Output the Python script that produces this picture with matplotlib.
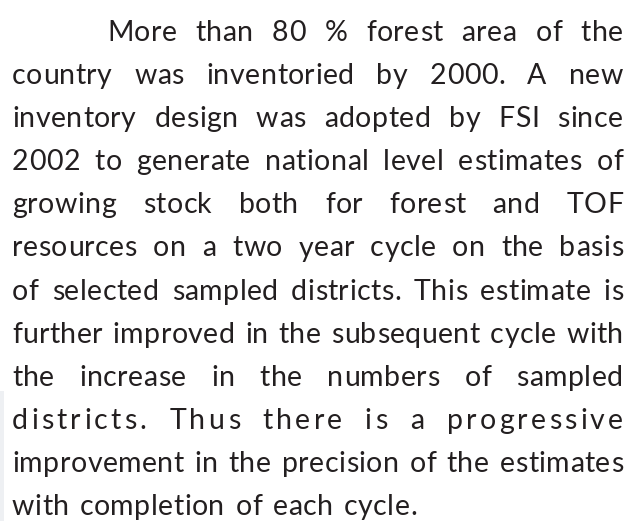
#!/usr/bin/env python3
# Justified paragraph of text, rendered word by word with matplotlib.
import matplotlib; matplotlib.use("Agg")
import matplotlib.pyplot as plt
from matplotlib.patches import Rectangle

lines = [
    "More than 80 % forest area of the",
    "country was inventoried by 2000. A new",
    "inventory design was adopted by FSI since",
    "2002 to generate national level estimates of",
    "growing stock both for forest and TOF",
    "resources on a two year cycle on the basis",
    "of selected sampled districts. This estimate is",
    "further improved in the subsequent cycle with",
    "the increase in the numbers of sampled",
    "districts. Thus there is a progressive",
    "improvement in the precision of the estimates",
    "with completion of each cycle.",
]

W, H = 630, 521
left, right, indent = 12, 623, 107
base0, pitch = 41, 43.1
base_track = 0.45
tracking = {9: 3.2}          # extra letter spacing (px) on the loose line
color = "#231f20"
font = dict(family="Lato", size=20.5, color=color)

fig = plt.figure(figsize=(W/100, H/100), dpi=100)
fig.patch.set_facecolor("white")
fig.patches.append(Rectangle((0, 0), 4/W, 130/H, transform=fig.transFigure,
                             color="#eef0f3", lw=0))
r = fig.canvas.get_renderer()
_cache = {}

def width(s):
    if s not in _cache:
        t = fig.text(0, 0, s, **font)
        _cache[s] = t.get_window_extent(r).width
        t.remove()
    return _cache[s]

def draw_word(word, x, y, tr):
    for ch in word:
        fig.text(x/W, y, ch, va="baseline", **font)
        x += width(ch) + tr

def word_w(word, tr):
    return sum(width(ch) for ch in word) + tr*(len(word)-1)

for i, ln in enumerate(lines):
    words = ln.split()
    tr = tracking.get(i, base_track)
    x0 = indent if i == 0 else left
    y = 1 - (base0 + i*pitch)/H
    ws = [word_w(w, tr) for w in words]
    if i == len(lines)-1:
        gap = width(" ") * 1.5
    else:
        gap = (right - x0 - sum(ws)) / (len(words)-1)
    x = x0
    for w, wd in zip(words, ws):
        draw_word(w, x, y, tr)
        x += wd + gap

fig.savefig("out.png", dpi=100)
